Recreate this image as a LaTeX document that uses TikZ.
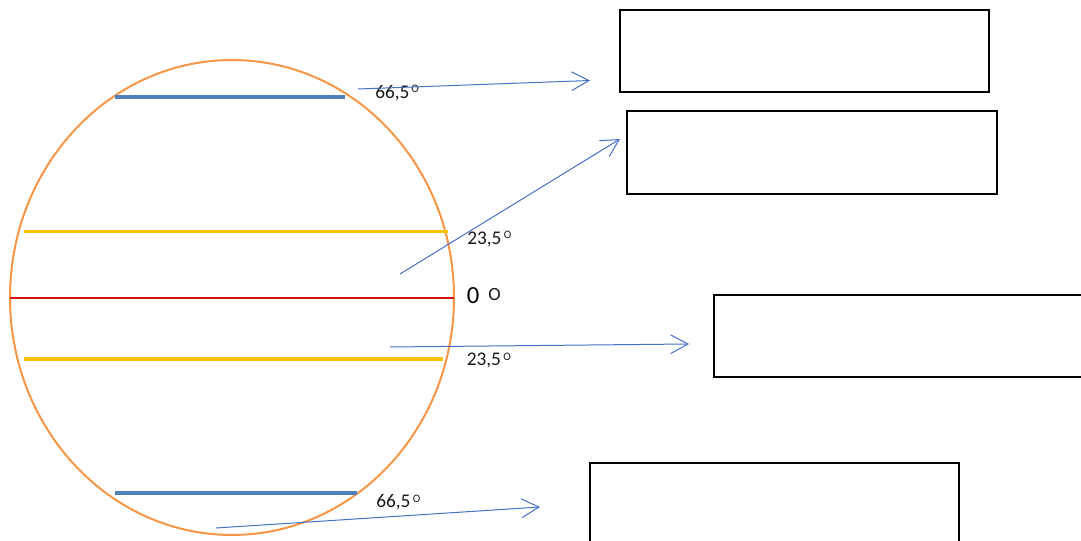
\documentclass[tikz,border=0pt]{standalone}
\usepackage{fontspec}
\setmainfont{Carlito}
\usetikzlibrary{arrows.meta}
\definecolor{globeorange}{HTML}{F79646}
\definecolor{polarblue}{HTML}{4F81BD}
\definecolor{tropicyellow}{HTML}{FFC000}
\definecolor{equatorred}{HTML}{D81010}
\definecolor{arrowblue}{HTML}{4472C4}
\tikzset{
  box/.style={draw=black, line width=0.9pt, rectangle, inner sep=0pt},
  pointer/.style={draw=arrowblue, line width=0.75pt, -{Straight Barb[length=13pt,width=14pt]}},
  deg/.style={anchor=base west, inner sep=0pt, font=\fontsize{14.5pt}{16pt}\selectfont, text=black!90},
  degsup/.style={anchor=base west, inner sep=0pt, font=\fontsize{8.5pt}{9pt}\selectfont, text=black!90},
}
\begin{document}
\begin{tikzpicture}[x=0.75pt,y=-0.75pt]
\useasboundingbox (0,0) rectangle (1081,541);
% globe
\draw[globeorange, line width=1.5pt] (232,297.5) ellipse [x radius=166.5pt, y radius=178.1pt];
% parallels
\draw[polarblue, line width=3pt] (115,97) -- (345,97);
\draw[tropicyellow, line width=2.6pt] (24,231.6) -- (448,231.6);
\draw[equatorred, line width=2.2pt] (10,298) -- (454,298);
\draw[tropicyellow, line width=2.6pt] (24,359) -- (443,359);
\draw[polarblue, line width=3pt] (115,493) -- (357,493);
% labels
\node[deg] (l1) at (375,99) {66,5};
\node[degsup] (l1o) at (411,92.5) {O};
\node[deg] (l2) at (467,245) {23,5};
\node[degsup] (l2o) at (503.5,239) {O};
\node[anchor=base west, inner sep=0pt, font=\fontsize{18.5pt}{20pt}\selectfont] (l0) at (466.5,304) {0};
\node[anchor=base west, inner sep=0pt, font=\fontsize{14pt}{15pt}\selectfont, text=black!90] (l0o) at (488,301) {O};
\node[deg] (l3) at (466.5,366) {23,5};
\node[degsup] (l3o) at (503,361) {O};
\node[deg] (l4) at (376,507) {66,5};
\node[degsup] (l4o) at (412.5,502.5) {O};
% boxes
\node[box, minimum width=276.75pt, minimum height=61.5pt] (b1) at (804.5,51) {};
\node[box, minimum width=277.5pt, minimum height=62.25pt] (b2) at (812,152.5) {};
\node[box, minimum width=300pt, minimum height=61.5pt] (b3) at (914,336) {};
\node[box, minimum width=276.75pt, minimum height=75pt] (b4) at (774.5,513) {};
% arrow ends
\coordinate (s1) at (358,89);   \coordinate (e1) at (590,80.5);
\coordinate (s2) at (400,274);  \coordinate (e2) at (620,139);
\coordinate (s3) at (390,347);  \coordinate (e3) at (689,344);
\coordinate (s4) at (216,528);  \coordinate (e4) at (540,507);
\draw[pointer] (s1) -- (e1);
\draw[pointer] (s2) -- (e2);
\draw[pointer] (s3) -- (e3);
\draw[pointer] (s4) -- (e4);
\end{tikzpicture}
\end{document}
